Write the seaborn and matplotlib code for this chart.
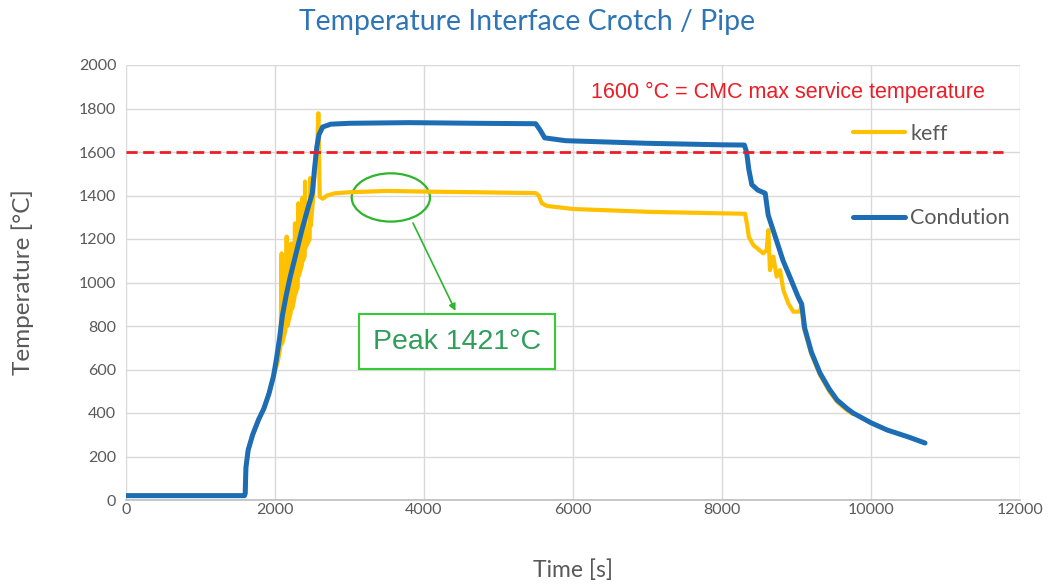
import pandas as pd
import matplotlib.pyplot as plt
from matplotlib.patches import Ellipse
import seaborn as sns

# --- data ---
cond_time = [0, 1590, 1600, 1610, 1640, 1700, 1780, 1850, 1920, 1980, 2020, 2060,
             2100, 2150, 2200, 2280, 2360, 2440, 2500, 2530, 2560, 2590, 2640, 2750,
             3000, 3800, 4700, 5500, 5560, 5620, 5900, 7000, 8000, 8300, 8330, 8360,
             8400, 8480, 8580, 8620, 8730, 8820, 8930, 9020, 9070, 9110, 9200, 9315,
             9440, 9544, 9680, 9760, 10000, 10215, 10500, 10725]
cond_temp = [20, 20, 30, 150, 230, 300, 370, 420, 490, 570, 650, 740,
             850, 940, 1020, 1130, 1240, 1340, 1410, 1520, 1620, 1680, 1715, 1728,
             1732, 1735, 1732, 1730, 1700, 1665, 1652, 1640, 1633, 1632, 1600, 1520,
             1450, 1425, 1410, 1310, 1195, 1100, 1010, 935, 900, 790, 680, 584,
             510, 460, 420, 400, 355, 322, 290, 262]

keff_time = [0, 1590, 1600, 1610, 1640, 1700, 1780, 1850, 1920, 1980, 2040, 2075,
             2089, 2095, 2140, 2157, 2165, 2210, 2220, 2230, 2262, 2268, 2275, 2305,
             2313, 2320, 2360, 2368, 2375, 2398, 2403, 2410, 2465, 2472, 2480, 2510,
             2540, 2570, 2582, 2600, 2640, 2700, 2800, 3000, 3500, 4000, 4700, 5500,
             5540, 5580, 5650, 5826, 6000, 7000, 8000, 8310, 8340, 8360, 8420, 8555,
             8600, 8622, 8644, 8689, 8734, 8779, 8823, 8890, 8957, 9047, 9069, 9092,
             9200, 9315, 9440, 9544, 9680, 9760]
keff_temp = [20, 20, 30, 150, 230, 300, 370, 420, 490, 570, 640, 710,
             1134, 720, 780, 1211, 800, 860, 1180, 880, 930, 1272, 950, 980,
             1364, 1030, 1080, 1390, 1100, 1120, 1464, 1160, 1200, 1480, 1260, 1380,
             1560, 1650, 1778, 1395, 1385, 1400, 1410, 1415, 1421, 1418, 1415, 1411,
             1400, 1365, 1352, 1345, 1338, 1325, 1318, 1316, 1260, 1210, 1172, 1134,
             1150, 1241, 1057, 1119, 1027, 1057, 966, 904, 866, 866, 904, 800,
             670, 575, 500, 452, 412, 395]

limit_time = [0, 11770]
limit_temp = [1600, 1600]

keff = pd.DataFrame({"time": keff_time, "temp": keff_temp})
cond = pd.DataFrame({"time": cond_time, "temp": cond_temp})
limit = pd.DataFrame({"time": limit_time, "temp": limit_temp})

sns.set_theme(style="whitegrid")
plt.rcParams["font.family"] = ["Lato", "DejaVu Sans"]

fig = plt.figure(figsize=(10.58, 5.87), dpi=100)
ax = fig.add_axes([126 / 1058, 1 - 500 / 587, 894 / 1058, 435 / 587])

sns.lineplot(data=keff, x="time", y="temp", ax=ax, color="#FFC000", lw=3.0,
             sort=False, estimator=None, label="keff")
sns.lineplot(data=cond, x="time", y="temp", ax=ax, color="#1D6DB5", lw=3.6,
             sort=False, estimator=None, label="Condution")
sns.lineplot(data=limit, x="time", y="temp", ax=ax, color="#EE1C25", lw=2.0,
             dashes=False, linestyle=(0, (4, 2)), legend=False)

ax.set_xlim(0, 12000)
ax.set_ylim(0, 2000)
ax.set_xticks(range(0, 12001, 2000))
ax.set_yticks(range(0, 2001, 200))
ax.grid(True, color="#D9D9D9", lw=1.0)
ax.set_facecolor("white")
for side in ["left", "right", "top"]:
    ax.spines[side].set_visible(False)
ax.spines["bottom"].set_color("#BFBFBF")
ax.tick_params(axis="both", length=0, colors="#595959", labelsize=11.5)
ax.tick_params(axis="x", pad=2)
ax.tick_params(axis="y", pad=7)

ax.set_xlabel("Time [s]", fontsize=16.5, color="#595959", labelpad=31)
ax.set_ylabel("Temperature [°C]", fontsize=17.5, color="#595959", labelpad=32)
fig.suptitle("Temperature Interface Crotch / Pipe", fontsize=20.4, color="#2E75B6",
             x=527 / 1058, y=1 - 22 / 587, va="center")

ax.text(8886, 1876, "1600 °C = CMC max service temperature", color="#EE1C25",
        fontsize=15.5, ha="center", va="center", family="Liberation Sans")

# green annotation
ax.add_patch(Ellipse((3555, 1391), 1051, 222, fill=False, ec="#2DB52D", lw=1.6))
ax.annotate("", xy=(4439, 858), xytext=(3836, 1285),
            arrowprops=dict(arrowstyle="-|>", color="#2DB52D", lw=1.2, mutation_scale=10))
ax.text(4443, 728, "Peak 1421°C", color="#2E9E5B", fontsize=20.5, ha="center", va="center",
        family="Liberation Sans",
        bbox=dict(boxstyle="square,pad=0.5", fc="white", ec="#33CC33", lw=1.5))

leg = ax.legend(loc="upper left", bbox_to_anchor=((853 - 126) / 894, (500 - 124) / 435),
                frameon=False, borderaxespad=0, borderpad=0, handlelength=2.4,
                handletextpad=0.25, labelspacing=2.98, fontsize=15.5)
for t in leg.get_texts():
    t.set_color("#595959")

fig.savefig("out.png", dpi=100, facecolor="white")
